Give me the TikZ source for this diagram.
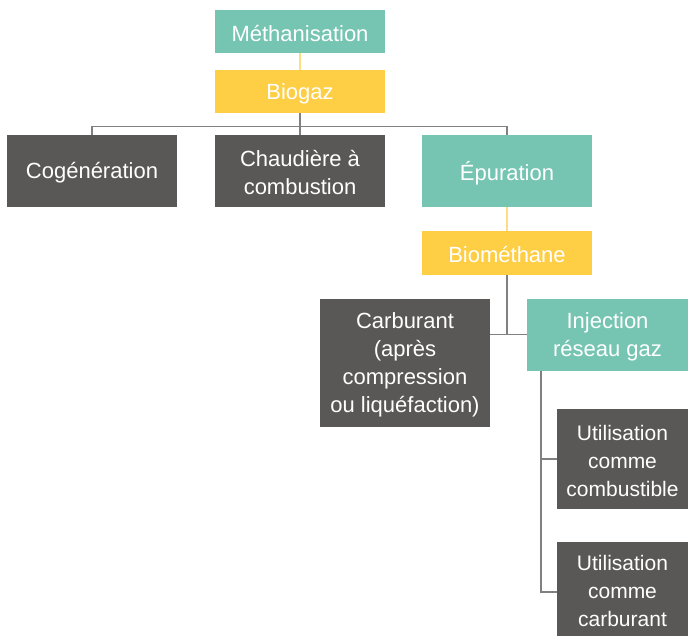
\documentclass[tikz,border=0pt]{standalone}
\usepackage{fontspec}
\setmainfont{Liberation Sans}
\begin{document}
\begin{tikzpicture}[x=1pt,y=-1pt,
  box/.style={inner sep=0pt},
  txt/.style={align=center, text=white, font=\fontsize{22}{28}\selectfont, yshift=-2pt},
  stxt/.style={txt, font=\fontsize{21}{28}\selectfont},
  teal/.style={box, fill={rgb,255:red,118;green,197;blue,179}},
  yel/.style={box, fill={rgb,255:red,254;green,206;blue,69}},
  dark/.style={box, fill={rgb,255:red,89;green,88;blue,86}},
  yline/.style={draw={rgb,255:red,254;green,222;blue,130}, line width=1.2pt},
  gline/.style={draw={rgb,255:red,128;green,128;blue,128}, line width=1.5pt}
]
\useasboundingbox (0,0) rectangle (688,636);
\node[teal, minimum width=170, minimum height=43, label={[txt]center:Méthanisation}] (meth) at (300,31.5) {};
\node[yel, minimum width=170, minimum height=43, label={[txt]center:Biogaz}] (biogaz) at (300,91.5) {};
\node[dark, minimum width=170, minimum height=72, label={[txt]center:Cogénération}] (cog) at (92,171) {};
\node[dark, minimum width=170, minimum height=72, label={[txt]center:Chaudière à\\combustion}] (chaud) at (300,171) {};
\node[teal, minimum width=170, minimum height=72, label={[txt]center:Épuration}] (epur) at (507,171) {};
\node[yel, minimum width=170, minimum height=44, label={[txt]center:Biométhane}] (biom) at (507,253) {};
\node[dark, minimum width=170, minimum height=128, label={[txt]center:Carburant\\(après\\compression\\ou liquéfaction)}] (carb) at (405,363) {};
\node[teal, minimum width=161, minimum height=72, label={[txt]center:Injection\\réseau gaz}] (inj) at (607.5,335) {};
\node[dark, minimum width=131, minimum height=100, label={[stxt]center:Utilisation\\comme\\combustible}] (u1) at (622.5,459) {};
\node[dark, minimum width=131, minimum height=94, label={[stxt]center:Utilisation\\comme\\carburant}] (u2) at (622.5,589) {};
\coordinate (bus) at (300,126.5);
\coordinate (j) at (507,334.5);
\coordinate (v) at (541,371);
\draw[yline] (meth.south) -- (biogaz.north);
\draw[yline] (epur.south) -- (biom.north);
\draw[gline] (biogaz.south) -- (chaud.north);
\draw[gline] (cog.north) -- (cog.north |- bus) -- (epur.north |- bus) -- (epur.north);
\draw[gline] (biom.south) -- (j);
\draw[gline] (j -| carb.east) -- (j -| inj.west);
\draw[gline] (v) |- ([yshift=-3pt]u2.west);
\draw[gline] (v |- u1.west) -- (u1.west);
\end{tikzpicture}
\end{document}
